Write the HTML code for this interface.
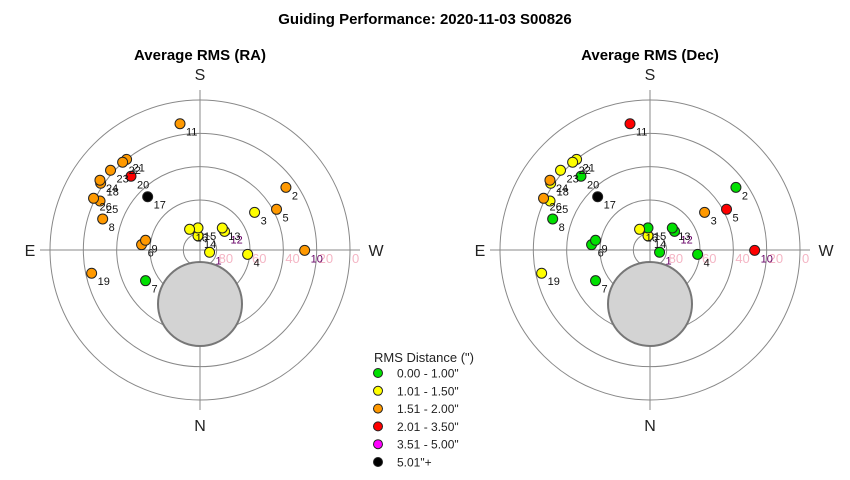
<!DOCTYPE html>
<html><head><meta charset="utf-8"><style>
html,body{margin:0;padding:0;background:#fff;}
svg{display:block;font-family:"Liberation Sans",Arial,sans-serif;}
</style></head><body>
<svg id="chart" width="850" height="480" viewBox="0 0 850 480">
<text x="425" y="24" text-anchor="middle" font-size="15" font-weight="bold">Guiding Performance: 2020-11-03 S00826</text>
<g id="legend">
<text x="374" y="362" font-size="13" fill="#222">RMS Distance (")</text>
</g>
</svg>
<script>
const pointIds = [1,2,3,4,5,6,7,8,9,10,11,12,13,14,15,16,17,18,19,20,21,22,23,24,25,26];
const azimuths = [283.5,233.9,235.4,275.2,242,95.2,60.6,107.7,100.1,270.2,171,232.8,225.4,172,174.8,153.3,135.5,123.9,77.9,136.9,141,138.6,131.7,124.9,116.1,115.9];
const altitudes = [84.1,26.2,50.2,61.3,38.0,54.8,52.5,28.7,56.8,27.2,13.3,71.5,71.2,81.4,76.7,76.1,45.2,18.2,23.5,29.4,20,19.8,18.1,16.8,23.2,19];
const rmsRA = [1.3,1.8,1.3,1.3,1.8,1.8,0.8,1.8,1.8,1.8,1.8,1.3,1.3,1.3,1.3,1.3,6,1.8,1.8,2.5,1.8,1.8,1.8,1.8,1.8,1.8];
const rmsDec = [0.8,0.8,1.8,0.8,2.5,0.8,0.8,0.8,0.8,2.5,2.5,0.8,0.8,1.3,0.8,1.3,6,1.3,1.3,0.8,1.3,1.3,1.3,1.8,1.3,1.8];
const ringAlts = [80,60,40,20,0];
const binLabels = ['0.00 - 1.00"','1.01 - 1.50"','1.51 - 2.00"','2.01 - 3.50"','3.51 - 5.00"','5.01"+'];
const binMax = [1.0,1.5,2.0,3.5,5.0,Infinity];
const binColors = ['#00e000','#ffff00','#ff9900','#ff0000','#ff00ff','#000000'];

const NS='http://www.w3.org/2000/svg';
const svg=document.getElementById('chart');
const K=150/90;
function mk(tag,attrs,parent){const e=document.createElementNS(NS,tag);for(const k in attrs)e.setAttribute(k,attrs[k]);(parent||svg).appendChild(e);return e;}
function rOf(alt){return (90-alt)*K;}
function xy(cx,cy,az,alt){const r=rOf(alt),a=az*Math.PI/180;return [cx-r*Math.sin(a),cy+r*Math.cos(a)];}
function colorOf(v){for(let i=0;i<binMax.length;i++)if(v<=binMax[i])return binColors[i];return '#000';}

function drawPlot(cx,cy,title,values,key){
  const g=mk('g',{});
  
  
  const t=mk('text',{x:cx,y:60,'text-anchor':'middle','font-size':15,'font-weight':'bold'},g);t.textContent=title;
  
  
  ringAlts.forEach(a=>{const c=mk('circle',{cx:cx,cy:cy,r:rOf(a),fill:'none',stroke:'#888','stroke-width':1},g);
    
    });
  const l1=mk('line',{x1:cx,y1:cy-160,x2:cx,y2:cy+160,stroke:'#888'},g);
  
  
  const l2=mk('line',{x1:cx-160,y1:cy,x2:cx+160,y2:cy,stroke:'#888'},g);
  
  
  const blk=mk('circle',{cx:cx,cy:cy+54,r:42,fill:'#d3d3d3',stroke:'#777','stroke-width':2},g);
  
  
  ringAlts.forEach(a=>{const tx=mk('text',{x:cx+rOf(a)+2,y:cy+13,'font-size':13,fill:'#f4b5c4'},g);tx.textContent=String(a);
    
    });
  [['S',cx,80,'middle'],['N',cx,431,'middle'],['E',cx-170,256,'middle'],['W',cx+176,256,'middle']].forEach(d=>{
    const tx=mk('text',{x:d[1],y:d[2],'text-anchor':d[3],'font-size':16,fill:'#222'},g);tx.textContent=d[0];
    
    });
  const purple={1:1,10:1,12:1};
  pointIds.forEach((id,i)=>{
    const p=xy(cx,cy,azimuths[i],altitudes[i]);
    const c=mk('circle',{cx:p[0],cy:p[1],r:5,fill:colorOf(values[i]),stroke:'#222','stroke-width':1},g);
    
    
    const tx=mk('text',{x:p[0]+6,y:p[1]+12,'font-size':11,fill:purple[id]?'#660066':'#111'},g);tx.textContent=String(id);
    
    
  });
}
drawPlot(200,250,'Average RMS (RA)',rmsRA,'ra');
drawPlot(650,250,'Average RMS (Dec)',rmsDec,'dec');

const lg=document.getElementById('legend');
binLabels.forEach((lab,i)=>{
  const y=373+i*17.8;
  const c=mk('circle',{cx:378,cy:y,r:4.5,fill:binColors[i],stroke:'#222','stroke-width':1},lg);
  
  
  const t=mk('text',{x:397,y:y+4.5,'font-size':12,fill:'#222'},lg);t.textContent=lab;
  
  
});
</script>
</body></html>
